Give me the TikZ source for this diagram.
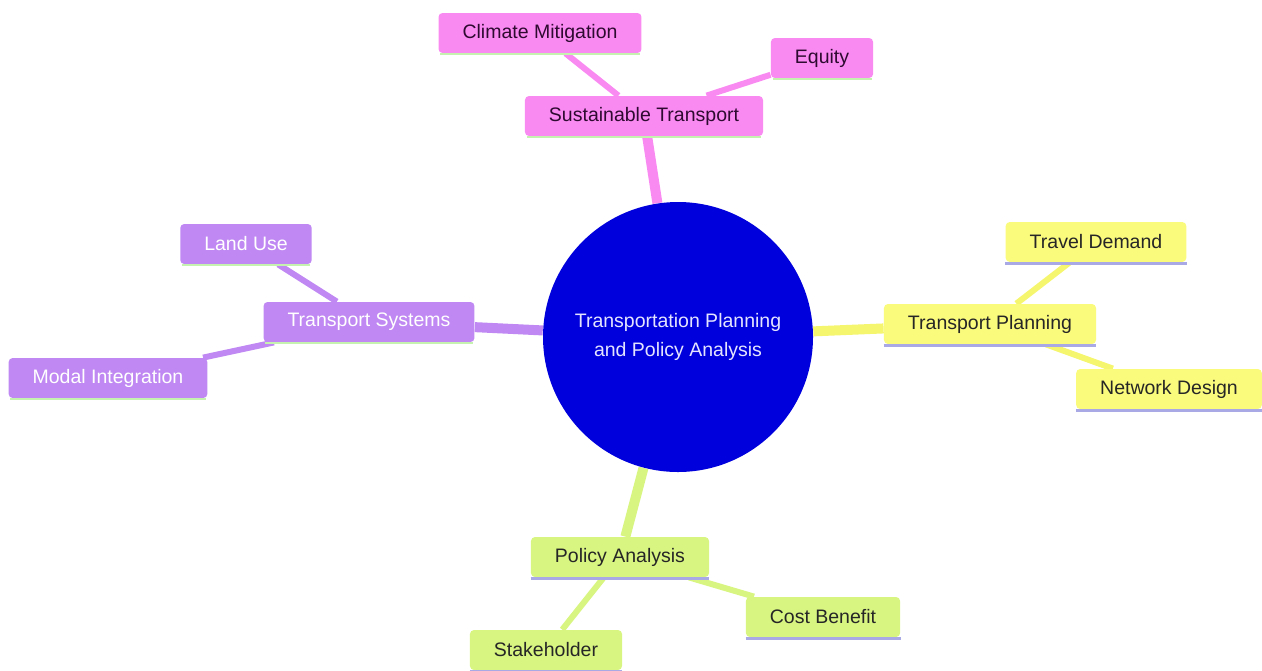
\documentclass[tikz,border=0pt]{standalone}
\usepackage{fontspec}
\setmainfont{Liberation Sans}
\usetikzlibrary{backgrounds}

\definecolor{pinkbox}{HTML}{F98AF2}
\definecolor{pinktext}{HTML}{2E0A30}
\definecolor{purplebox}{HTML}{BF88F2}
\definecolor{yellowbox}{HTML}{FAFA7D}
\definecolor{yellowline}{HTML}{F5F56E}
\definecolor{greenbox}{HTML}{D8F582}
\definecolor{rootblue}{HTML}{0000DC}
\definecolor{rootText}{HTML}{E4E4FF}
\definecolor{lineGreen}{HTML}{C6F2B0}
\definecolor{lineLav}{HTML}{A9A9E6}

\tikzset{
  topic/.style={rectangle, rounded corners=2pt, minimum height=20pt, inner xsep=12pt,
    font=\fontsize{9.75}{12}\selectfont},
  pinktopic/.style={topic, fill=pinkbox, text=pinktext},
  purpletopic/.style={topic, fill=purplebox, text=white},
  yellowtopic/.style={topic, fill=yellowbox, text=black!85},
  greentopic/.style={topic, fill=greenbox, text=black!85},
  trunk/.style={line width=5pt},
  twig/.style={line width=3pt}
}

\begin{document}
\begin{tikzpicture}[x=0.5pt, y=-0.5pt]
\useasboundingbox (0,0) rectangle (1262,670);

\node (root) at (678,337) [circle, fill=rootblue, minimum size=135pt, text=rootText,
  align=center, font=\fontsize{9.75}{14.5}\selectfont] {Transportation Planning\\and Policy Analysis};

\node (st) at (644,116) [pinktopic] {Sustainable Transport};
\node (cm) at (540,33) [pinktopic] {Climate Mitigation};
\node (eq) at (822,58) [pinktopic] {Equity};

\node (ts) at (369,322) [purpletopic] {Transport Systems};
\node (lu) at (246,244) [purpletopic] {Land Use};
\node (mi) at (108,378) [purpletopic] {Modal Integration};

\node (tp) at (990,324) [yellowtopic] {Transport Planning};
\node (td) at (1096,242) [yellowtopic] {Travel Demand};
\node (nd) at (1169,389) [yellowtopic] {Network Design};

\node (pa) at (620,557) [greentopic] {Policy Analysis};
\node (cb) at (823,617) [greentopic] {Cost Benefit};
\node (sh) at (546,650) [greentopic] {Stakeholder};

\begin{scope}[on background layer]
\draw[trunk, pinkbox] (root) -- (st);
\draw[twig, pinkbox] (st) -- (cm);
\draw[twig, pinkbox] (st) -- (eq);
\draw[trunk, purplebox] (root) -- (ts);
\draw[twig, purplebox] (ts) -- (lu);
\draw[twig, purplebox] (ts) -- (mi);
\draw[trunk, yellowline] (root) -- (tp);
\draw[twig, yellowline] (tp) -- (td);
\draw[twig, yellowline] (tp) -- (nd);
\draw[trunk, greenbox] (root) -- (pa);
\draw[twig, greenbox] (pa) -- (cb);
\draw[twig, greenbox] (pa) -- (sh);
\end{scope}

% underlines
\foreach \n in {st,cm,eq,ts,lu,mi}
  \draw[line width=1pt, lineGreen] ([xshift=1pt,yshift=-0.5pt]\n.south west) -- ([xshift=-1pt,yshift=-0.5pt]\n.south east);
\foreach \n in {tp,td,nd,pa,cb,sh}
  \draw[line width=1.2pt, lineLav] ([yshift=-0.5pt]\n.south west) -- ([yshift=-0.5pt]\n.south east);
\end{tikzpicture}
\end{document}
